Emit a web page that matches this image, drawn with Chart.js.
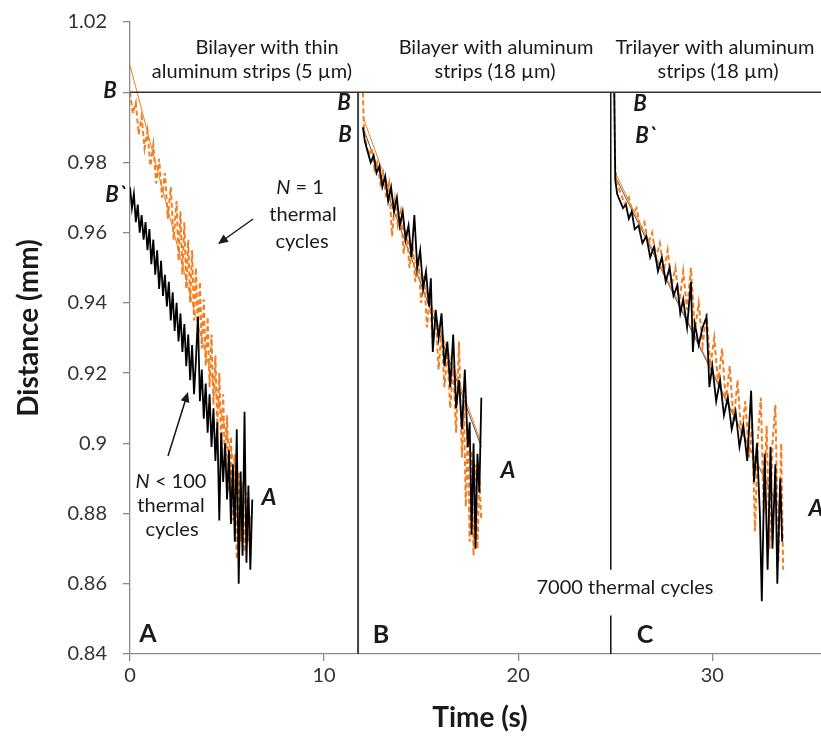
<!DOCTYPE html>
<html>
<head>
<meta charset="utf-8">
<script src="https://cdn.jsdelivr.net/npm/chart.js@4.4.1/dist/chart.umd.min.js"></script>
<style>
html, body { margin: 0; padding: 0; background: #fff; }
#wrap { width: 821px; height: 736px; }
</style>
</head>
<body>
<div id="wrap"><canvas id="myChart" width="821" height="736"></canvas></div>
<script>
// Panel A - bilayer, thin strips
var aBlackT = [0, 0.1, 0.2, 0.3, 0.4, 0.5, 0.6, 0.7, 0.8, 0.9,
    1.0, 1.1, 1.2, 1.3, 1.4, 1.5, 1.6, 1.7, 1.8, 1.9,
    2.0, 2.1, 2.2, 2.3, 2.4, 2.5, 2.6, 2.7, 2.8, 2.9,
    3.0, 3.1, 3.2, 3.3, 3.4, 3.5, 3.6, 3.7, 3.8, 3.9,
    4.0, 4.1, 4.2, 4.3, 4.4, 4.5, 4.6, 4.7, 4.8, 4.9,
    5.0, 5.1, 5.2, 5.3, 5.4, 5.5, 5.6, 5.7, 5.8, 5.9,
    6.0, 6.1, 6.2, 6.3];
var aBlackD = [0.973, 0.967, 0.971, 0.963, 0.968, 0.960, 0.965, 0.958, 0.963, 0.955,
    0.961, 0.951, 0.958, 0.948, 0.955, 0.944, 0.952, 0.942, 0.948, 0.939,
    0.946, 0.935, 0.943, 0.932, 0.940, 0.929, 0.937, 0.926, 0.934, 0.922,
    0.931, 0.918, 0.928, 0.914, 0.924, 0.936, 0.912, 0.921, 0.907, 0.917,
    0.903, 0.914, 0.899, 0.910, 0.895, 0.906, 0.878, 0.903, 0.889, 0.900,
    0.884, 0.898, 0.877, 0.894, 0.872, 0.904, 0.860, 0.892, 0.868, 0.909,
    0.866, 0.888, 0.864, 0.884];
var aOrangeT = [0, 0.15, 0.3, 0.45, 0.6, 0.75, 0.9, 1.05, 1.2, 1.35,
    1.5, 1.65, 1.8, 1.95, 2.1, 2.25, 2.4, 2.5, 2.6, 2.7,
    2.8, 2.9, 3.0, 3.1, 3.2, 3.3, 3.4, 3.5, 3.6, 3.7,
    3.8, 3.9, 4.0, 4.1, 4.2, 4.3, 4.4, 4.5, 4.6, 4.7,
    4.8, 4.9, 5.0, 5.1, 5.2, 5.3, 5.4, 5.5, 5.6, 5.7,
    5.8, 5.9, 6.0, 6.1, 6.2];
var aOrangeD = [1.000, 0.994, 0.997, 0.988, 0.993, 0.984, 0.989, 0.979, 0.985, 0.974,
    0.981, 0.970, 0.977, 0.964, 0.973, 0.958, 0.969, 0.952, 0.966, 0.948,
    0.963, 0.944, 0.958, 0.940, 0.955, 0.935, 0.950, 0.931, 0.946, 0.927,
    0.941, 0.922, 0.936, 0.916, 0.931, 0.911, 0.925, 0.905, 0.920, 0.899,
    0.914, 0.893, 0.908, 0.886, 0.902, 0.878, 0.897, 0.867, 0.892, 0.872,
    0.889, 0.869, 0.886, 0.872, 0.880];
var aFitT = [0, 6.2];
var aFitD = [1.0077, 0.877];

// Panel B - bilayer, 18 um strips
var bBlackT = [12.0, 12.1, 12.25, 12.4, 12.55, 12.7, 12.85, 13.0, 13.15, 13.3,
    13.45, 13.6, 13.75, 13.9, 14.05, 14.2, 14.35, 14.5, 14.65, 14.8,
    14.95, 15.1, 15.25, 15.4, 15.5, 15.6, 15.75, 15.9, 16.05, 16.2,
    16.35, 16.5, 16.65, 16.8, 16.95, 17.1, 17.25, 17.4, 17.5, 17.6,
    17.7, 17.8, 17.9, 18.0, 18.1];
var bBlackD = [0.990, 0.986, 0.983, 0.980, 0.982, 0.977, 0.979, 0.973, 0.976, 0.969,
    0.973, 0.966, 0.970, 0.962, 0.966, 0.958, 0.962, 0.953, 0.965, 0.950,
    0.955, 0.944, 0.949, 0.939, 0.947, 0.926, 0.938, 0.930, 0.937, 0.922,
    0.929, 0.916, 0.931, 0.910, 0.918, 0.904, 0.921, 0.899, 0.906, 0.874,
    0.900, 0.870, 0.897, 0.886, 0.913];
var bOrangeT = [12.0, 12.05, 12.15, 12.3, 12.45, 12.6, 12.75, 12.9, 13.05, 13.2,
    13.35, 13.5, 13.65, 13.8, 13.95, 14.1, 14.25, 14.4, 14.55, 14.7,
    14.85, 15.0, 15.15, 15.3, 15.45, 15.6, 15.75, 15.9, 16.05, 16.2,
    16.35, 16.5, 16.65, 16.8, 16.95, 17.1, 17.2, 17.3, 17.4, 17.5,
    17.6, 17.7, 17.8, 17.9, 18.0, 18.1];
var bOrangeD = [1.000, 0.990, 0.986, 0.982, 0.984, 0.978, 0.980, 0.974, 0.977, 0.970,
    0.974, 0.959, 0.969, 0.962, 0.966, 0.954, 0.961, 0.950, 0.957, 0.946,
    0.953, 0.940, 0.948, 0.933, 0.942, 0.928, 0.936, 0.921, 0.932, 0.916,
    0.926, 0.910, 0.922, 0.903, 0.929, 0.896, 0.912, 0.882, 0.904, 0.872,
    0.898, 0.868, 0.894, 0.870, 0.890, 0.878];
var bFitT = [12.0, 18.1];
var bFitD = [0.993, 0.900];
var bFit2T = [12.0, 18.1];
var bFit2D = [0.990, 0.899];

// Panel C - trilayer, 18 um strips
var cBlackT = [24.95, 25.0, 25.1, 25.25, 25.4, 25.55, 25.7, 25.85, 26.0, 26.2,
    26.4, 26.6, 26.8, 27.0, 27.2, 27.4, 27.6, 27.8, 28.0, 28.2,
    28.35, 28.5, 28.7, 28.9, 29.0, 29.1, 29.3, 29.5, 29.7, 29.85,
    30.0, 30.2, 30.4, 30.6, 30.8, 31.0, 31.2, 31.4, 31.6, 31.8,
    32.0, 32.15, 32.3, 32.45, 32.55, 32.7, 32.85, 33.0, 33.1, 33.25,
    33.35, 33.5, 33.6];
var cBlackD = [1.000, 0.975, 0.971, 0.969, 0.967, 0.968, 0.964, 0.966, 0.961, 0.962,
    0.957, 0.959, 0.953, 0.956, 0.949, 0.953, 0.946, 0.950, 0.942, 0.945,
    0.937, 0.941, 0.933, 0.946, 0.926, 0.934, 0.928, 0.933, 0.936, 0.916,
    0.922, 0.912, 0.918, 0.908, 0.913, 0.904, 0.909, 0.899, 0.905, 0.895,
    0.915, 0.889, 0.900, 0.880, 0.855, 0.897, 0.864, 0.899, 0.870, 0.894,
    0.860, 0.890, 0.872];
var cOrangeT = [24.95, 25.0, 25.15, 25.3, 25.5, 25.7, 25.9, 26.1, 26.3, 26.5,
    26.7, 26.9, 27.1, 27.3, 27.5, 27.7, 27.9, 28.1, 28.3, 28.5,
    28.7, 28.9, 29.1, 29.3, 29.5, 29.7, 29.9, 30.1, 30.3, 30.5,
    30.7, 30.9, 31.1, 31.3, 31.5, 31.7, 31.9, 32.05, 32.2, 32.35,
    32.5, 32.65, 32.8, 32.95, 33.1, 33.25, 33.4, 33.55, 33.65];
var cOrangeD = [1.000, 0.978, 0.973, 0.971, 0.968, 0.970, 0.965, 0.967, 0.961, 0.963,
    0.957, 0.960, 0.953, 0.957, 0.949, 0.955, 0.945, 0.950, 0.940, 0.949,
    0.938, 0.950, 0.932, 0.940, 0.928, 0.937, 0.922, 0.930, 0.917, 0.927,
    0.912, 0.922, 0.906, 0.918, 0.902, 0.912, 0.896, 0.906, 0.875, 0.902,
    0.913, 0.880, 0.905, 0.870, 0.900, 0.911, 0.866, 0.900, 0.864];
var cFitT = [25.0, 33.6];
var cFitD = [0.977, 0.880];
var cFit2T = [25.0, 33.5];
var cFit2D = [0.976, 0.881];

// separators and reference line
var sepBT = [11.75, 11.75];
var sepBD = [1.0, 0.84];
var sepCT = [24.77, 24.77, 24.77, 24.77, 24.77];
var sepCD = [1.0, 0.864, null, 0.851, 0.84];
var topT = [0, 35.6];
var topD = [1.0, 1.0];

var yTicks = [0.84, 0.86, 0.88, 0.9, 0.92, 0.94, 0.96, 0.98, 1, 1.02];
var xTicks = [0, 10, 20, 30];

var FONT = 'Lato, "Open Sans", sans-serif';
var ORANGE = '#f47d20';

function pts(t, d) {
    return t.map(function (x, i) { return { x: x, y: d[i] }; });
}

function line(t, d, color, width, dash) {
    return {
        data: pts(t, d),
        showLine: true,
        borderColor: color,
        borderWidth: width,
        borderDash: dash || [],
        pointRadius: 0,
        fill: false,
        spanGaps: false
    };
}

function arrow(ctx, x1, y1, x2, y2) {
    var a = Math.atan2(y2 - y1, x2 - x1);
    ctx.beginPath();
    ctx.moveTo(x1, y1);
    ctx.lineTo(x2 - 6 * Math.cos(a), y2 - 6 * Math.sin(a));
    ctx.stroke();
    ctx.beginPath();
    ctx.moveTo(x2, y2);
    ctx.lineTo(x2 - 10 * Math.cos(a) + 4.5 * Math.sin(a), y2 - 10 * Math.sin(a) - 4.5 * Math.cos(a));
    ctx.lineTo(x2 - 10 * Math.cos(a) - 4.5 * Math.sin(a), y2 - 10 * Math.sin(a) + 4.5 * Math.cos(a));
    ctx.closePath();
    ctx.fill();
}

// "N = 1" style text with an italic N, centred on cx
function nText(ctx, rest, cx, y) {
    ctx.font = 'italic 20px ' + FONT;
    var w1 = ctx.measureText('N').width;
    ctx.font = '20px ' + FONT;
    var w2 = ctx.measureText(rest).width;
    var x = cx - (w1 + w2) / 2;
    ctx.textAlign = 'left';
    ctx.font = 'italic 20px ' + FONT;
    ctx.fillText('N', x, y);
    ctx.font = '20px ' + FONT;
    ctx.fillText(rest, x + w1, y);
}

var notes = {
    id: 'notes',
    afterDraw: function (chart) {
        var ctx = chart.ctx;
        ctx.save();
        ctx.textBaseline = 'middle';
        ctx.textAlign = 'center';

        // B label sits over the "1" tick label
        ctx.fillStyle = '#ffffff';
        ctx.fillRect(88, 78, 34, 26);
        ctx.fillStyle = '#1a1a1a';
        ctx.strokeStyle = '#1a1a1a';

        // axis titles
        ctx.font = 'bold 28px ' + FONT;
        ctx.fillText('Time (s)', 480, 718);
        ctx.save();
        ctx.translate(29, 328);
        ctx.rotate(-Math.PI / 2);
        ctx.fillText('Distance (mm)', 0, 0);
        ctx.restore();

        ctx.font = '20px ' + FONT;
        ctx.fillText('Bilayer with thin', 267, 48);
        ctx.fillText('aluminum strips (5 \u00b5m)', 252, 72);
        ctx.fillText('Bilayer with aluminum', 496, 48);
        ctx.fillText('strips (18 \u00b5m)', 495, 72);
        ctx.fillText('Trilayer with aluminum', 715, 48);
        ctx.fillText('strips (18 \u00b5m)', 718, 72);

        ctx.fillText('thermal', 303, 215);
        ctx.fillText('cycles', 302, 242);
        ctx.fillText('thermal', 171, 506);
        ctx.fillText('cycles', 172, 530);
        ctx.fillText('7000 thermal cycles', 625, 588);
        nText(ctx, ' = 1', 300, 188);
        nText(ctx, ' < 100', 171, 482);

        ctx.textAlign = 'center';
        ctx.font = 'bold italic 22px ' + FONT;
        ctx.fillText('B', 110, 91);
        ctx.fillText('B`', 116, 195);
        ctx.fillText('B', 344, 103);
        ctx.fillText('B', 345, 135);
        ctx.fillText('B', 640, 104);
        ctx.fillText('B`', 646, 136);
        ctx.font = 'bold italic 23px ' + FONT;
        ctx.fillText('A', 269, 498);
        ctx.fillText('A', 508, 471);
        ctx.fillText('A', 816, 509);

        ctx.font = 'bold 25px ' + FONT;
        ctx.fillText('A', 148, 634);
        ctx.fillText('B', 381, 635);
        ctx.fillText('C', 645, 635);

        ctx.lineWidth = 1.5;
        arrow(ctx, 253, 219, 218, 244);
        arrow(ctx, 168, 456, 188, 392);
        ctx.restore();
    }
};

var ctx = document.getElementById('myChart');

new Chart(ctx, {
    type: 'scatter',
    data: {
        datasets: [
            line(topT, topD, '#333333', 1.6),
            line(sepBT, sepBD, '#444444', 2),
            line(sepCT, sepCD, '#111111', 1.5),
            line(aBlackT, aBlackD, '#000000', 1.8),
            line(bBlackT, bBlackD, '#000000', 1.8),
            line(cBlackT, cBlackD, '#000000', 1.8),
            line(aOrangeT, aOrangeD, ORANGE, 2, [5, 3]),
            line(bOrangeT, bOrangeD, ORANGE, 2, [5, 3]),
            line(cOrangeT, cOrangeD, ORANGE, 2, [5, 3]),
            line(aFitT, aFitD, ORANGE, 1),
            line(bFitT, bFitD, ORANGE, 1),
            line(bFit2T, bFit2D, '#555555', 1),
            line(cFitT, cFitD, ORANGE, 1),
            line(cFit2T, cFit2D, '#555555', 1)
        ]
    },
    options: {
        responsive: false,
        animation: false,
        devicePixelRatio: 1,
        layout: { padding: { top: 22, left: 0, right: 0, bottom: 0 } },
        plugins: {
            legend: { display: false },
            tooltip: { enabled: false }
        },
        scales: {
            x: {
                type: 'linear',
                min: 0,
                max: 35.6,
                afterBuildTicks: function (scale) {
                    scale.ticks = xTicks.map(function (v) { return { value: v }; });
                },
                afterFit: function (scale) {
                    scale.height = 82;
                    scale.paddingLeft = 0;
                    scale.paddingRight = 0;
                },
                ticks: {
                    font: { family: FONT, size: 20 },
                    color: '#333333',
                    padding: 3
                },
                grid: {
                    drawOnChartArea: false,
                    drawTicks: true,
                    tickLength: 7,
                    color: '#8a8a8a',
                    lineWidth: 1.3
                },
                border: { color: '#8a8a8a', width: 1.3 }
            },
            y: {
                type: 'linear',
                min: 0.84,
                max: 1.02,
                afterBuildTicks: function (scale) {
                    scale.ticks = yTicks.map(function (v) { return { value: v }; });
                },
                afterFit: function (scale) {
                    scale.width = 130;
                    scale.paddingTop = 0;
                    scale.paddingBottom = 0;
                },
                ticks: {
                    font: { family: FONT, size: 20 },
                    color: '#333333',
                    padding: 16,
                    callback: function (v) { return String(Number(v.toFixed(2))); }
                },
                grid: {
                    drawOnChartArea: false,
                    drawTicks: true,
                    tickLength: 7,
                    color: '#8a8a8a',
                    lineWidth: 1.3
                },
                border: { color: '#8a8a8a', width: 1.3 }
            }
        }
    },
    plugins: [notes]
});
</script>
</body>
</html>
